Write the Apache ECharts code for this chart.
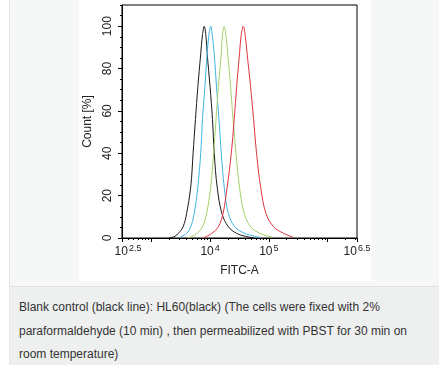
<!DOCTYPE html>
<html><head><meta charset="utf-8">
<script src="https://cdn.jsdelivr.net/npm/echarts@6/dist/echarts.min.js"></script>
<style>
html,body{margin:0;padding:0;background:#fff;width:439px;height:365px;overflow:hidden;font-family:"Liberation Sans",Arial,sans-serif;}
#panel{position:absolute;left:9px;top:0;width:430px;height:286px;background:#f6f7f7;border-left:1px solid #e6e6e6;}
#img{position:absolute;left:79px;top:0;width:292px;height:281px;background:#fff;}
#cap{position:absolute;left:9px;top:286px;width:430px;height:79px;background:#eeefef;border-top:1px solid #e2e2e2;border-left:1px solid #e6e6e6;}
#captext{position:absolute;left:9px;top:9px;font-size:12px;line-height:23.5px;color:#333;white-space:nowrap;}
#chart{position:absolute;left:0;top:0;width:439px;height:365px;}
</style></head>
<body>
<div id="panel"></div>
<div id="img"></div>
<div id="cap"><div id="captext">Blank control (black line): HL60(black) (The cells were fixed with 2%<br>paraformaldehyde (10 min) , then permeabilized with PBST for 30 min on<br>room temperature)</div></div>
<div id="chart"></div>
<script>
// x values are log10(FITC-A)
const blackX = [3.30, 3.40, 3.46, 3.54, 3.60, 3.67, 3.71, 3.75, 3.79, 3.84, 3.87, 3.90, 3.93, 3.95, 4.00, 4.04, 4.07, 4.12, 4.20, 4.31, 4.45, 4.60, 4.75];
const blackY = [0, 0.8, 2.2, 5.3, 11.6, 24, 40, 56, 71, 87, 96, 100, 95, 87, 71, 56, 40, 24, 11.6, 5.3, 2.2, 0.8, 0];
const blueX = [3.46, 3.60, 3.67, 3.73, 3.79, 3.84, 3.87, 3.91, 3.95, 3.98, 4.01, 4.04, 4.07, 4.11, 4.15, 4.19, 4.24, 4.31, 4.42, 4.59, 4.85];
const blueY = [0, 2.2, 5.3, 11.6, 24, 40, 56, 71, 87, 96, 100, 95, 87, 71, 56, 40, 24, 11.6, 5.3, 2.2, 0.3];
const greenX = [3.63, 3.78, 3.87, 3.94, 4.01, 4.06, 4.10, 4.14, 4.19, 4.21, 4.24, 4.27, 4.30, 4.35, 4.39, 4.44, 4.50, 4.58, 4.69, 4.85, 5.07];
const greenY = [0, 2.2, 5.3, 11.6, 24, 40, 56, 71, 87, 96, 100, 95, 87, 71, 56, 40, 24, 11.6, 5.3, 2.2, 0.3];
const redX = [3.88, 4.03, 4.14, 4.22, 4.29, 4.36, 4.41, 4.45, 4.50, 4.53, 4.565, 4.60, 4.63, 4.69, 4.74, 4.79, 4.86, 4.95, 5.08, 5.25, 5.42];
const redY = [0, 2.2, 5.3, 11.6, 24, 40, 56, 71, 87, 96, 100, 95, 87, 71, 56, 40, 24, 11.6, 5.3, 2.2, 0.3];

const xLabelExp = ['2.5', '4', '5', '6.5'];
const xMajorTicks = [2.5, 3, 4, 5, 6, 6.5];
const yLabels = [0, 20, 40, 60, 80, 100];

const xMinorTicks = [];
for (let d = 2; d <= 6; d++) {
  for (let m = 2; m <= 9; m++) {
    const v = d + Math.log10(m);
    if (v > 2.5 && v < 6.5) xMinorTicks.push(v);
  }
}
const yMinorTicks = [];
for (let v = 0; v <= 110; v += 5) yMinorTicks.push(v);

const zip = (xs, ys) => xs.map((x, i) => [x, ys[i]]);
const txt = '#222';
const font = '"Liberation Sans", Arial, sans-serif';

const chart = echarts.init(document.getElementById('chart'), null, {renderer: 'canvas'});
const mkSeries = (name, xs, ys, color) => ({
  name, type: 'line', data: zip(xs, ys), showSymbol: false, smooth: 0.35,
  lineStyle: {color, width: 1}, itemStyle: {color}, animation: false
});
chart.setOption({
  animation: false,
  grid: {left: 122, right: 82, top: 5, bottom: 127, show: true, borderColor: '#000', borderWidth: 1, backgroundColor: 'transparent'},
  xAxis: [
    {type: 'value', min: 2.5, max: 6.5, gridIndex: 0,
     name: 'FITC-A', nameLocation: 'middle', nameGap: 27,
     nameTextStyle: {color: txt, fontSize: 12, fontFamily: font},
     axisLine: {show: true, lineStyle: {color: '#000', width: 1}},
     axisTick: {show: true, inside: false, length: 4, lineStyle: {color: '#000'}, customValues: xMajorTicks},
     axisLabel: {show: true, margin: 6, customValues: xLabelExp.map(Number),
       formatter: (v) => {
         const s = String(v);
         return (s === '2.5' ? '{p|}' : '') + '{b|10}{s|' + s + '}';
       },
       rich: {b: {fontSize: 12, color: txt, fontFamily: font},
              s: {fontSize: 9, color: txt, fontFamily: font, padding: [0, 0, 7, 1]},
              p: {width: 12}}},
     splitLine: {show: false}},
    {type: 'value', min: 2.5, max: 6.5, gridIndex: 0, position: 'bottom',
     axisLine: {show: false},
     axisTick: {show: true, inside: false, length: 2, lineStyle: {color: '#000'}, customValues: xMinorTicks},
     axisLabel: {show: false}, splitLine: {show: false}}
  ],
  yAxis: [
    {type: 'value', min: 0, max: 110, gridIndex: 0,
     name: 'Count [%]', nameLocation: 'middle', nameGap: 28,
     nameTextStyle: {color: txt, fontSize: 12, fontFamily: font},
     axisLine: {show: true, lineStyle: {color: '#000', width: 1}},
     axisTick: {show: true, inside: false, length: 4, lineStyle: {color: '#000'}, customValues: yLabels},
     axisLabel: {show: true, rotate: 90, margin: 8, color: txt, fontSize: 12, fontFamily: font, customValues: yLabels},
     splitLine: {show: false}},
    {type: 'value', min: 0, max: 110, gridIndex: 0, position: 'left',
     axisLine: {show: false},
     axisTick: {show: true, inside: false, length: 2, lineStyle: {color: '#000'}, customValues: yMinorTicks},
     axisLabel: {show: false}, splitLine: {show: false}}
  ],
  series: [
    mkSeries('HL60 blank', blackX, blackY, '#1a1a1a'),
    mkSeries('blue', blueX, blueY, '#3fb4e2'),
    mkSeries('green', greenX, greenY, '#a6cf6a'),
    mkSeries('red', redX, redY, '#e0333c')
  ]
});
</script>
</body></html>
